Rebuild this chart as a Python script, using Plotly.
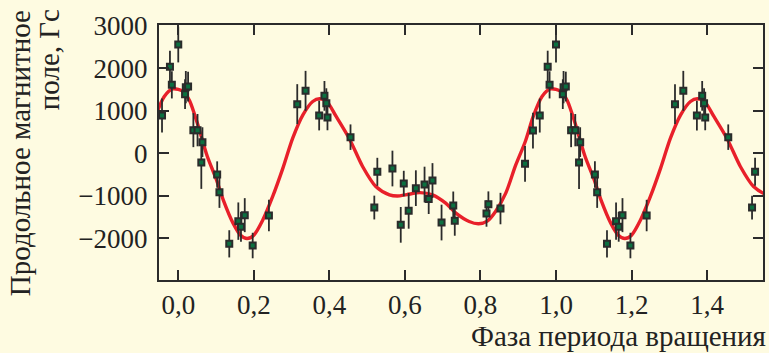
import plotly.graph_objects as go

# Observed data: rotation phase (0..1), longitudinal field (G), error (G)
phase = [0.000, 0.018, 0.020, 0.026, 0.040, 0.051, 0.061, 0.064, 0.103, 0.109,
         0.135, 0.159, 0.166, 0.176, 0.197, 0.240, 0.315, 0.337, 0.373, 0.387,
         0.392, 0.395, 0.456, 0.519, 0.527, 0.567, 0.589, 0.597, 0.610, 0.629,
         0.652, 0.663, 0.673, 0.697, 0.728, 0.732, 0.816, 0.821, 0.853, 0.918,
         0.939, 0.957, 0.978, 0.983]
field = [2555, 1388, 1553, 1567, 541, 541, -221, 259, -503, -918,
         -2134, -1600, -1734, -1459, -2174, -1468, 1153, 1466, 885, 1348,
         1176, 838, 376, -1280, -440, -362, -1687, -715, -1358, -824,
         -739, -1082, -645, -1633, -1233, -1593, -1421, -1200, -1304, -252,
         532, 885, 2030, 1607]
error = [420, 350, 380, 350, 400, 380, 620, 350, 310, 370,
         320, 440, 350, 400, 300, 370, 470, 470, 350, 350,
         350, 300, 300, 280, 330, 420, 420, 300, 420, 420,
         420, 350, 410, 420, 330, 350, 310, 300, 370, 420,
         420, 400, 380, 320]

# Fitted curve
fit_phase = [0.000, 0.015, 0.030, 0.050, 0.077, 0.100, 0.119, 0.145, 0.165, 0.182,
             0.200, 0.224, 0.250, 0.277, 0.303, 0.330, 0.356, 0.374, 0.393, 0.418,
             0.453, 0.488, 0.523, 0.559, 0.580, 0.605, 0.640, 0.673, 0.708, 0.735,
             0.770, 0.795, 0.818, 0.840, 0.867, 0.893, 0.919, 0.940, 0.963, 0.985]
fit_field = [1500, 1440, 1230, 720, -80, -600, -1099, -1647, -1930, -2010,
             -1930, -1569, -1020, -353, 353, 901, 1215, 1280, 1215, 863,
             340, -314, -785, -981, -1010, -975, -930, -981, -1177, -1412,
             -1608, -1663, -1600, -1373, -941, -290, 280, 870, 1333, 1510]

x_ticks = [0.0, 0.2, 0.4, 0.6, 0.8, 1.0, 1.2, 1.4]
y_ticks = [-3000, -2000, -1000, 0, 1000, 2000, 3000]
x_title = 'Фаза периода вращения'
y_title_lines = ['Продольное магнитное', 'поле, Гс']
XMIN, XMAX = -0.051, 1.548

# phase-fold: show the same period repeated
px, py, pe = [], [], []
for k in (-1, 0, 1):
    for p, b, e in zip(phase, field, error):
        if XMIN - 0.01 <= p + k <= XMAX + 0.01:
            px.append(p + k); py.append(b); pe.append(e)
order = sorted(range(len(px)), key=lambda i: px[i])
px = [px[i] for i in order]; py = [py[i] for i in order]; pe = [pe[i] for i in order]

cx, cy = [], []
for k in (-1, 0, 1):
    for p, b in zip(fit_phase, fit_field):
        if XMIN - 0.1 <= p + k <= XMAX + 0.1:
            cx.append(p + k); cy.append(b)
o2 = sorted(range(len(cx)), key=lambda i: cx[i])
cx = [cx[i] for i in o2]; cy = [cy[i] for i in o2]

BG = '#FEFBE1'
DARK = '#2b2b2b'
FONT = 'Liberation Serif'

fig = go.Figure()
fig.add_trace(go.Scatter(x=cx, y=cy, mode='lines', line=dict(color='#E8202A', width=3.4, shape='spline', smoothing=0.8),
                         hoverinfo='skip', showlegend=False))
fig.add_trace(go.Scatter(x=px, y=py, mode='markers',
                         error_y=dict(type='data', array=pe, visible=True, color=DARK, thickness=1.8, width=0),
                         marker=dict(symbol='square', size=6, color='#0B7040', line=dict(color=DARK, width=2)),
                         showlegend=False))

fig.update_layout(
    width=769, height=353,
    margin=dict(l=159, r=4, t=25, b=73),
    paper_bgcolor=BG, plot_bgcolor=BG,
    separators=',.',
    font=dict(family=FONT, size=27, color='#222'),
    xaxis=dict(range=[XMIN, XMAX], tickvals=x_ticks, tickformat='.1f',
               showline=True, linecolor=DARK, linewidth=2, mirror='ticks',
               ticks='inside', ticklen=10, tickwidth=2, tickcolor=DARK,
               showgrid=False, zeroline=False, ticklabelstandoff=0),
    yaxis=dict(range=[-2985, 3015], tickvals=y_ticks,
               showline=True, linecolor=DARK, linewidth=2, mirror='ticks',
               ticks='inside', ticklen=10, tickwidth=2, tickcolor=DARK,
               showgrid=False, zeroline=False, ticklabelstandoff=4),
    annotations=[
        dict(text=x_title, xref='paper', yref='paper', x=1.008, y=-0.218,
             xanchor='right', yanchor='middle', showarrow=False, font=dict(size=29)),
        dict(text=y_title_lines[0], xref='paper', yref='paper', x=-0.231, y=1.068,
             xanchor='center', yanchor='top', showarrow=False, textangle=-90, font=dict(size=29)),
        dict(text=y_title_lines[1], xref='paper', yref='paper', x=-0.182, y=1.068,
             xanchor='center', yanchor='top', showarrow=False, textangle=-90, font=dict(size=29)),
    ],
)
fig.write_html('out.html', config={'displayModeBar': False},
               post_script="document.body.style.margin='0';document.body.style.background='#FEFBE1';document.body.style.overflow='hidden';")
